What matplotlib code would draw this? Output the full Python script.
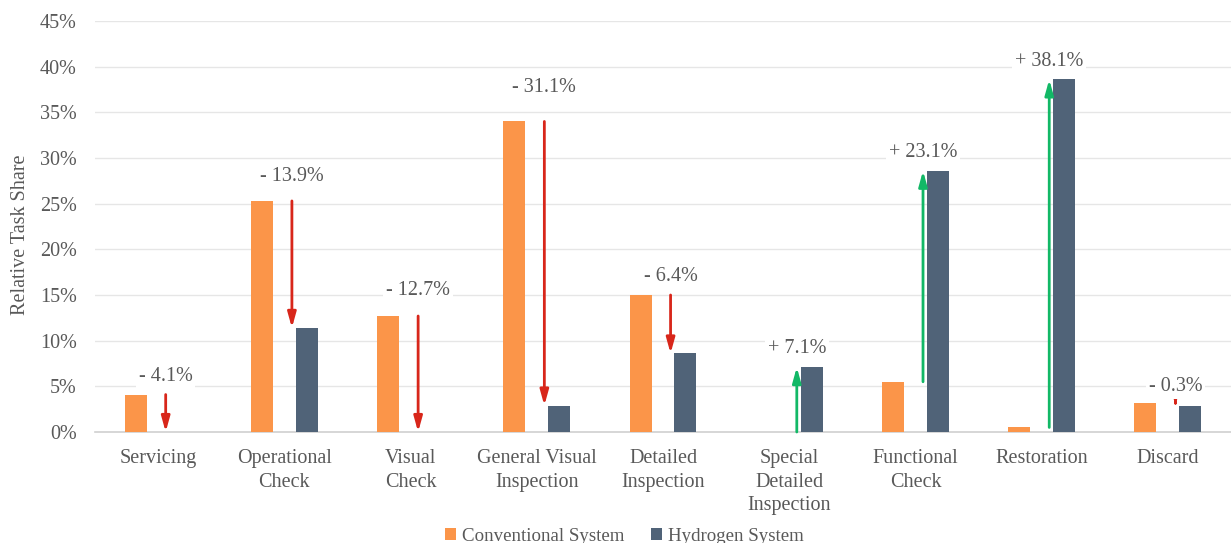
import matplotlib
matplotlib.use("Agg")
import matplotlib.pyplot as plt
import numpy as np

categories = ["Servicing", "Operational\nCheck", "Visual\nCheck", "General Visual\nInspection",
              "Detailed\nInspection", "Special\nDetailed\nInspection", "Functional\nCheck",
              "Restoration", "Discard"]
conventional = [4.1, 25.3, 12.7, 34.0, 15.0, 0.0, 5.5, 0.5, 3.2]
hydrogen = [0.0, 11.4, 0.0, 2.9, 8.6, 7.1, 28.6, 38.6, 2.9]
change_labels = ["- 4.1%", "- 13.9%", "- 12.7%", "- 31.1%", "- 6.4%", "+ 7.1%", "+ 23.1%", "+ 38.1%", "- 0.3%"]
label_offset = [2.0, 2.7, 2.8, 3.7, 2.0, 2.0, 2.0, 2.0, 1.8]
yticks = [0, 5, 10, 15, 20, 25, 30, 35, 40, 45]

plt.rcParams['font.family'] = ['Liberation Serif', 'DejaVu Serif']
txt = "#595959"
c_conv = "#FB9549"
c_hyd = "#506378"
red = "#D8261A"
green = "#12B866"

fig = plt.figure(figsize=(12.31, 5.43), dpi=100)
ax = fig.add_axes([95/1231, 1 - 432/543, 1 - 95/1231, (432 - 21)/543])

x = np.arange(len(categories))
w = 0.174
off = 0.178
ax.bar(x - off, conventional, w, color=c_conv, zorder=3, label="Conventional System")
ax.bar(x + off, hydrogen, w, color=c_hyd, zorder=3, label="Hydrogen System")

arrow_dx = 0.06
for i in range(len(categories)):
    c, h = conventional[i], hydrogen[i]
    col = red if h < c else green
    ax.annotate("", xy=(x[i] + arrow_dx, h), xytext=(x[i] + arrow_dx, c),
                arrowprops=dict(arrowstyle="-|>,head_width=0.25,head_length=0.9",
                                color=col, lw=2.0, shrinkA=0, shrinkB=0), zorder=4)
    ax.text(x[i] + arrow_dx, max(c, h) + label_offset[i], change_labels[i],
            ha="center", va="center", fontsize=14.5, color=txt, zorder=5,
            bbox=dict(facecolor="white", edgecolor="none", pad=2))

ax.set_xlim(-0.5, len(categories) - 0.5)
ax.set_ylim(0, 45)
ax.set_yticks(yticks)
ax.set_yticklabels([f"{v}%" for v in yticks])
ax.set_xticks(x)
ax.set_xticklabels(categories, linespacing=1.35)
ax.tick_params(axis="both", length=0, labelsize=14.5, colors=txt)
ax.tick_params(axis="x", pad=12)
ax.tick_params(axis="y", pad=13)
ax.grid(axis="y", color="#E6E6E6", lw=1, zorder=0)
for s in ["top", "right", "left"]:
    ax.spines[s].set_visible(False)
ax.spines["bottom"].set_color("#D0D0D0")
ax.spines["bottom"].set_linewidth(1.2)
ax.set_ylabel("Relative Task Share", fontsize=14.5, color=txt)
ax.yaxis.set_label_coords(-0.057, 0.48)

leg = fig.legend(loc="lower center", bbox_to_anchor=(0.507, -0.035), ncol=2, frameon=False,
                 fontsize=13.6, handlelength=0.6, handleheight=0.6, handletextpad=0.3,
                 columnspacing=1.4)
for t in leg.get_texts():
    t.set_color(txt)

fig.savefig("out.png", dpi=100)
